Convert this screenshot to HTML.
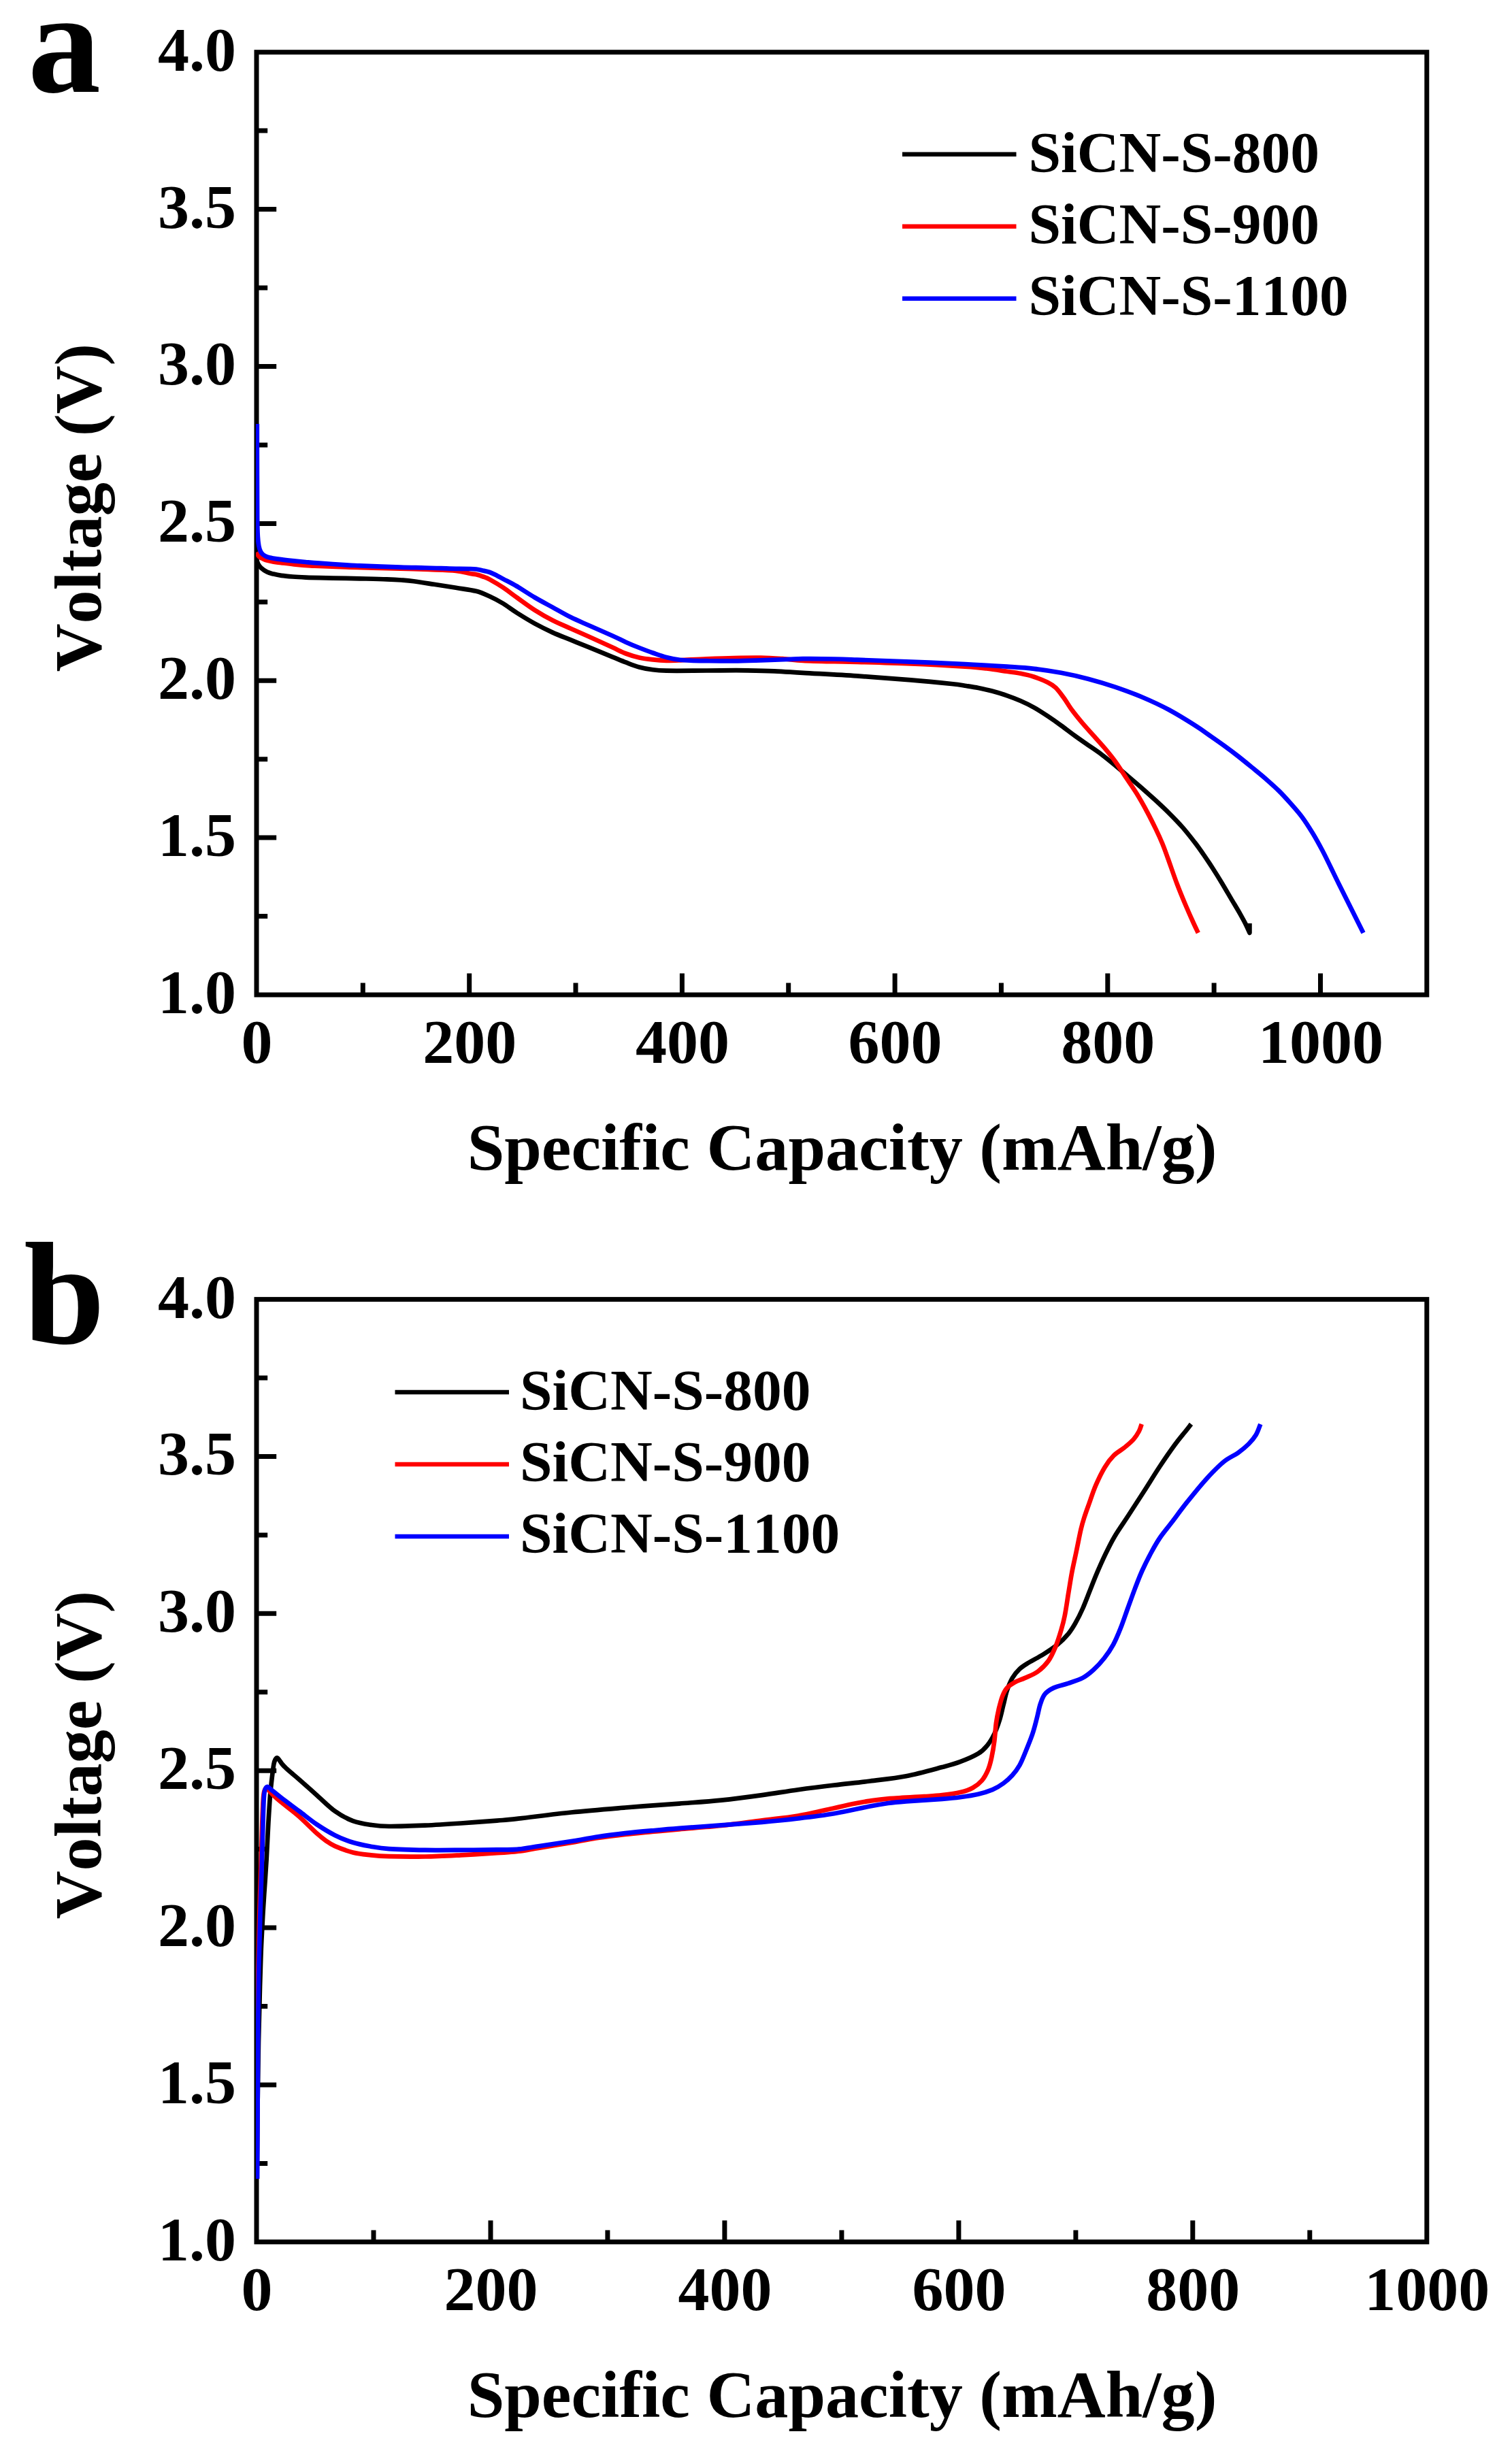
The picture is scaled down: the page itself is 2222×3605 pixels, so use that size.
<!DOCTYPE html>
<html lang="en">
<head>
<meta charset="utf-8">
<title>Voltage vs Specific Capacity</title>
<style>
html,body{margin:0;padding:0;background:#fff;}
body{width:2222px;height:3605px;overflow:hidden;}
svg{display:block;}
text{font-family:"Liberation Serif", serif;font-weight:bold;fill:#000;font-kerning:none;}
</style>
</head>
<body>
<svg width="2222" height="3605" viewBox="0 0 2222 3605">
<rect width="2222" height="3605" fill="#fff"/>
<defs><clipPath id="clipA"><rect x="376" y="76.7" width="1720.8" height="1385.3"/></clipPath><clipPath id="clipB"><rect x="376" y="1909.6" width="1720.8" height="1385.2"/></clipPath></defs>
<!-- panel a -->
<text x="41" y="134.5" font-size="214">a</text>
<rect x="377.0" y="76.7" width="1719.8" height="1385.3" fill="none" stroke="#000" stroke-width="7.0"/>
<path d="M377.0 192.1h16.2M377.0 307.6h29.2M377.0 423.0h16.2M377.0 538.5h29.2M377.0 653.9h16.2M377.0 769.4h29.2M377.0 884.8h16.2M377.0 1000.2h29.2M377.0 1115.7h16.2M377.0 1231.1h29.2M377.0 1346.6h16.2M533.3 1462.0v-17.4M689.7 1462.0v-31.5M846.0 1462.0v-17.4M1002.4 1462.0v-31.5M1158.7 1462.0v-17.4M1315.1 1462.0v-31.5M1471.4 1462.0v-17.4M1627.8 1462.0v-31.5M1784.1 1462.0v-17.4M1940.5 1462.0v-31.5" fill="none" stroke="#000" stroke-width="7.0"/>
<g clip-path="url(#clipA)">
<path d="M377.0 822.5C377.4 823.6 378.4 827.0 379.5 829.0C380.6 831.0 381.8 832.9 383.9 834.8C386.0 836.7 389.4 839.1 392.4 840.6C395.4 842.1 398.5 842.7 402.0 843.6C405.5 844.5 408.9 845.2 413.6 845.9C418.3 846.5 424.0 847.0 430.0 847.5C436.0 848.0 439.6 848.2 449.4 848.6C459.2 849.0 475.8 849.3 489.0 849.6C502.2 849.9 515.5 850.0 528.7 850.3C541.9 850.6 558.2 850.9 568.4 851.3C578.6 851.7 583.4 852.0 590.0 852.5C596.6 853.0 600.1 853.2 608.1 854.3C616.1 855.3 627.6 857.2 637.9 858.8C648.2 860.4 659.7 862.1 670.0 863.8C680.3 865.5 691.5 866.7 699.8 868.8C708.1 870.9 713.1 873.5 719.7 876.5C726.3 879.5 732.9 883.0 739.5 887.0C746.1 891.0 751.7 895.6 759.4 900.5C767.1 905.4 777.0 911.5 785.8 916.4C794.6 921.2 803.5 925.6 812.3 929.6C821.1 933.6 829.9 936.8 838.7 940.4C847.5 944.0 855.0 947.1 865.2 951.2C875.4 955.4 890.7 961.6 899.8 965.3C908.9 969.0 913.1 970.9 919.7 973.4C926.3 975.9 932.9 978.6 939.5 980.4C946.1 982.2 952.8 983.4 959.4 984.3C966.0 985.2 969.3 985.5 979.2 985.7C989.1 985.9 1005.7 985.8 1018.9 985.7C1032.1 985.6 1045.4 985.4 1058.6 985.3C1071.8 985.2 1085.1 985.1 1098.3 985.3C1111.5 985.5 1124.3 985.7 1137.9 986.3C1151.5 986.9 1159.8 987.6 1180.0 988.8C1200.2 990.0 1233.0 991.6 1259.4 993.4C1285.9 995.2 1315.6 997.5 1338.7 999.4C1361.8 1001.3 1384.8 1003.6 1398.3 1005.0C1411.8 1006.4 1413.4 1007.0 1420.0 1008.0C1426.6 1009.0 1431.6 1009.7 1437.9 1011.0C1444.2 1012.3 1450.8 1013.7 1457.8 1015.6C1464.8 1017.5 1473.0 1019.9 1480.0 1022.3C1487.0 1024.7 1493.2 1027.1 1499.8 1030.0C1506.4 1032.9 1513.1 1036.1 1519.7 1039.8C1526.3 1043.5 1532.9 1047.9 1539.5 1052.3C1546.1 1056.7 1552.8 1061.4 1559.4 1066.2C1566.0 1071.0 1572.6 1076.2 1579.2 1081.0C1585.8 1085.8 1592.4 1090.3 1599.0 1094.9C1605.6 1099.5 1612.3 1103.8 1618.9 1108.8C1625.5 1113.8 1632.1 1119.2 1638.7 1124.7C1645.3 1130.2 1652.0 1135.9 1658.6 1141.5C1665.2 1147.1 1671.8 1152.6 1678.4 1158.4C1685.0 1164.2 1691.7 1170.2 1698.3 1176.3C1704.9 1182.4 1711.5 1188.5 1718.1 1195.1C1724.7 1201.7 1731.6 1208.7 1737.9 1215.9C1744.2 1223.1 1750.8 1231.6 1756.1 1238.4C1761.3 1245.2 1765.0 1250.5 1769.4 1256.9C1773.8 1263.3 1778.2 1269.9 1782.6 1276.7C1787.0 1283.5 1791.4 1290.6 1795.8 1297.9C1800.2 1305.2 1804.6 1312.9 1809.0 1320.4C1813.4 1327.9 1818.8 1336.7 1822.3 1342.9C1825.8 1349.1 1828.0 1353.1 1830.2 1357.4C1832.4 1361.7 1834.5 1366.7 1835.3 1368.5L1836.4 1371.0L1836.4 1357.0" fill="none" stroke="#000" stroke-width="6.7" stroke-linejoin="round" stroke-linecap="butt"/>
<path d="M377.0 811.5C377.4 812.3 378.6 815.2 379.5 816.5C380.4 817.8 381.4 818.5 382.5 819.2C383.6 820.0 384.4 820.3 386.0 821.0C387.6 821.7 389.7 822.7 392.4 823.5C395.1 824.3 398.5 825.0 402.0 825.6C405.5 826.2 408.6 826.6 413.6 827.2C418.6 827.8 424.9 828.6 432.0 829.3C439.1 830.0 449.8 830.9 456.0 831.3C462.2 831.7 460.2 831.5 469.0 831.9C477.8 832.3 495.7 833.0 508.9 833.5C522.1 834.0 534.8 834.2 548.0 834.6C561.2 835.0 574.6 835.2 588.3 835.6C602.0 836.0 616.4 836.5 630.0 837.0C643.6 837.5 660.0 837.8 670.0 838.8C680.0 839.8 685.0 841.9 690.0 842.8C695.0 843.7 696.5 843.5 699.8 844.3C703.1 845.1 706.7 846.3 710.0 847.5C713.3 848.7 714.8 848.9 719.7 851.6C724.6 854.3 732.9 859.1 739.5 863.5C746.1 867.9 751.7 872.5 759.4 878.0C767.1 883.5 777.0 891.0 785.8 896.6C794.6 902.2 803.5 907.3 812.3 911.8C821.1 916.3 829.9 919.8 838.7 923.7C847.5 927.7 855.0 930.9 865.2 935.5C875.4 940.1 890.7 947.1 899.8 951.3C908.9 955.5 913.1 958.0 919.7 960.5C926.3 963.0 932.9 965.0 939.5 966.5C946.1 968.0 952.8 968.7 959.4 969.4C966.0 970.1 972.4 970.6 979.2 970.8C986.0 970.9 990.1 970.7 1000.0 970.3C1009.9 969.9 1025.6 968.8 1038.7 968.3C1051.8 967.8 1065.2 967.3 1078.4 967.0C1091.6 966.7 1106.2 966.4 1118.1 966.6C1130.0 966.8 1139.7 967.5 1150.0 968.2C1160.3 968.9 1167.4 970.1 1180.0 970.8C1192.6 971.5 1212.6 971.9 1225.8 972.2C1239.0 972.5 1240.6 972.3 1259.4 972.8C1278.2 973.3 1312.2 974.2 1338.7 975.4C1365.2 976.5 1399.5 978.5 1418.1 979.7C1436.6 980.9 1439.7 981.3 1450.0 982.5C1460.3 983.7 1471.7 985.6 1480.0 986.8C1488.3 988.0 1493.2 988.5 1499.8 989.8C1506.4 991.1 1513.1 992.6 1519.7 994.7C1526.3 996.9 1534.2 1000.1 1539.5 1002.7C1544.8 1005.4 1547.4 1006.8 1551.4 1010.6C1555.4 1014.4 1559.3 1020.0 1563.3 1025.5C1567.3 1031.0 1570.6 1037.0 1575.2 1043.3C1579.8 1049.6 1585.8 1056.9 1591.1 1063.2C1596.4 1069.5 1601.7 1075.0 1607.0 1081.0C1612.3 1087.0 1617.6 1092.6 1622.9 1098.9C1628.2 1105.2 1633.4 1111.4 1638.7 1118.7C1644.0 1126.0 1649.3 1134.6 1654.6 1142.5C1659.9 1150.4 1665.2 1157.7 1670.5 1166.3C1675.8 1174.9 1681.7 1185.5 1686.3 1194.1C1690.9 1202.7 1694.6 1210.3 1698.3 1217.9C1702.0 1225.5 1705.2 1232.5 1708.2 1239.8C1711.2 1247.1 1712.9 1252.1 1716.5 1262.0C1720.1 1271.9 1725.3 1287.4 1729.7 1299.0C1734.1 1310.6 1738.9 1322.1 1742.9 1331.5C1746.9 1340.9 1750.5 1348.9 1753.5 1355.5C1756.5 1362.1 1759.6 1368.4 1760.8 1371.0" fill="none" stroke="#f00" stroke-width="6.7" stroke-linejoin="round" stroke-linecap="butt"/>
<path d="M377.8 623.0C377.8 635.8 377.8 677.2 377.9 700.0C377.9 722.8 378.0 745.3 378.1 760.0C378.2 774.7 378.4 781.0 378.8 788.0C379.2 795.0 379.6 798.2 380.3 802.0C381.0 805.8 381.9 808.3 382.9 810.5C383.9 812.7 384.9 813.7 386.5 815.0C388.1 816.3 390.2 817.5 392.4 818.4C394.6 819.3 396.4 819.6 399.8 820.2C403.2 820.8 408.1 821.6 413.0 822.2C417.9 822.9 423.5 823.5 429.5 824.1C435.5 824.7 442.4 825.4 449.0 826.0C455.6 826.6 459.2 827.0 469.2 827.7C479.2 828.4 499.0 829.7 508.9 830.3C518.8 830.9 515.5 830.7 528.7 831.3C541.9 831.9 572.3 833.2 588.3 833.7C604.3 834.2 614.7 834.2 624.6 834.5C634.5 834.8 640.2 835.0 647.8 835.2C655.4 835.4 663.0 835.7 670.0 835.8C677.0 835.9 685.0 835.9 690.0 836.0C695.0 836.1 696.5 836.1 699.8 836.5C703.0 836.9 706.2 837.8 709.5 838.5C712.8 839.2 716.2 839.8 719.7 841.0C723.2 842.2 727.1 844.4 730.4 846.0C733.7 847.6 734.7 848.3 739.5 850.9C744.3 853.5 751.7 857.0 759.4 861.5C767.1 866.0 777.0 872.8 785.8 878.0C794.6 883.2 803.5 887.8 812.3 892.6C821.1 897.5 829.9 902.7 838.7 907.1C847.5 911.5 855.0 914.5 865.2 919.0C875.4 923.5 890.7 930.1 899.8 934.2C908.9 938.3 913.1 940.7 919.7 943.7C926.3 946.7 932.9 949.4 939.5 952.0C946.1 954.6 952.8 957.2 959.4 959.5C966.0 961.8 972.6 964.3 979.2 966.0C985.8 967.7 992.5 969.0 999.0 969.8C1005.5 970.6 1011.4 970.6 1018.0 970.8C1024.6 971.0 1028.6 971.1 1038.7 971.2C1048.8 971.3 1065.2 971.5 1078.4 971.4C1091.6 971.3 1104.9 970.8 1118.1 970.4C1131.3 970.0 1147.5 969.4 1157.8 969.0C1168.1 968.6 1168.7 968.2 1180.0 968.1C1191.3 968.0 1212.6 968.2 1225.8 968.5C1239.0 968.8 1240.6 968.9 1259.4 969.6C1278.2 970.3 1312.2 971.5 1338.7 972.6C1365.2 973.7 1394.5 974.8 1418.1 976.0C1441.6 977.2 1463.1 978.6 1480.0 979.7C1496.9 980.8 1506.5 981.3 1519.7 982.8C1532.9 984.3 1546.2 986.3 1559.4 988.8C1572.6 991.3 1585.8 994.2 1599.0 997.7C1612.2 1001.2 1625.5 1005.1 1638.7 1009.6C1651.9 1014.1 1665.2 1018.9 1678.4 1024.5C1691.6 1030.1 1704.9 1036.2 1718.1 1043.3C1731.3 1050.4 1747.5 1060.6 1757.8 1067.1C1768.1 1073.6 1773.0 1077.6 1780.0 1082.5C1787.0 1087.4 1793.2 1091.7 1799.8 1096.5C1806.4 1101.3 1813.1 1106.3 1819.7 1111.5C1826.3 1116.7 1832.9 1122.1 1839.5 1127.5C1846.1 1132.9 1852.8 1138.2 1859.4 1144.0C1866.0 1149.8 1873.1 1156.0 1879.2 1162.0C1885.3 1168.0 1890.4 1173.7 1896.0 1180.0C1901.6 1186.3 1907.3 1192.5 1912.9 1200.0C1918.5 1207.5 1924.3 1216.7 1929.4 1225.0C1934.5 1233.3 1939.0 1241.7 1943.4 1250.0C1947.8 1258.3 1951.8 1266.8 1955.8 1275.0C1959.8 1283.2 1963.6 1291.2 1967.5 1299.0C1971.4 1306.8 1975.1 1314.2 1979.0 1322.0C1982.9 1329.8 1986.9 1337.8 1991.0 1346.0C1995.1 1354.2 2001.4 1366.8 2003.5 1371.0" fill="none" stroke="#00f" stroke-width="6.7" stroke-linejoin="round" stroke-linecap="butt"/>
</g>
<g font-size="92" text-anchor="end">
<text x="347.1" y="103.6">4.0</text>
<text x="347.1" y="334.5">3.5</text>
<text x="347.1" y="565.4">3.0</text>
<text x="347.1" y="796.2">2.5</text>
<text x="347.1" y="1027.1">2.0</text>
<text x="347.1" y="1258.0">1.5</text>
<text x="347.1" y="1488.9">1.0</text>
</g>
<g font-size="92" text-anchor="middle">
<text x="377.5" y="1562.4">0</text>
<text x="690.2" y="1562.4">200</text>
<text x="1002.9" y="1562.4">400</text>
<text x="1315.6" y="1562.4">600</text>
<text x="1628.3" y="1562.4">800</text>
<text x="1941.0" y="1562.4">1000</text>
</g>
<text transform="translate(147.5 746) rotate(-90)" font-size="98.2" text-anchor="middle">Voltage (V)</text>
<text x="1237.5" y="1719" font-size="98.2" text-anchor="middle">Specific Capacity (mAh/g)</text>
<path d="M1326.0 226.8h167.5" stroke="#000" stroke-width="6.6" fill="none"/>
<path d="M1326.0 332.8h167.5" stroke="#f00" stroke-width="6.6" fill="none"/>
<path d="M1326.0 438.8h167.5" stroke="#00f" stroke-width="6.6" fill="none"/>
<g font-size="85.5">
<text x="1511.5" y="252.6">SiCN-S-800</text>
<text x="1511.5" y="357.9">SiCN-S-900</text>
<text x="1511.5" y="463.2">SiCN-S-1100</text>
</g>
<!-- panel b -->
<text x="35" y="1973.5" font-size="214">b</text>
<rect x="377.0" y="1909.6" width="1719.8" height="1385.2" fill="none" stroke="#000" stroke-width="7.0"/>
<path d="M377.0 2025.0h16.2M377.0 2140.5h29.2M377.0 2255.9h16.2M377.0 2371.3h29.2M377.0 2486.8h16.2M377.0 2602.2h29.2M377.0 2717.6h16.2M377.0 2833.1h29.2M377.0 2948.5h16.2M377.0 3063.9h29.2M377.0 3179.4h16.2M549.0 3294.8v-17.4M721.0 3294.8v-31.5M892.9 3294.8v-17.4M1064.9 3294.8v-31.5M1236.9 3294.8v-17.4M1408.9 3294.8v-31.5M1580.9 3294.8v-17.4M1752.8 3294.8v-31.5M1924.8 3294.8v-17.4" fill="none" stroke="#000" stroke-width="7.0"/>
<g clip-path="url(#clipB)">
<path d="M377.5 3202.0C377.7 3185.0 378.1 3133.7 378.5 3100.0C378.9 3066.3 379.4 3030.0 380.0 3000.0C380.6 2970.0 381.4 2942.7 382.0 2920.0C382.6 2897.3 383.1 2882.1 383.8 2863.9C384.6 2845.7 385.6 2826.4 386.5 2811.0C387.4 2795.6 388.2 2784.5 389.1 2771.3C390.0 2758.1 390.8 2747.0 391.7 2731.6C392.6 2716.2 393.5 2694.1 394.4 2678.7C395.3 2663.3 396.1 2650.0 397.0 2639.0C397.9 2628.0 398.8 2620.3 399.7 2612.6C400.6 2604.9 401.5 2597.4 402.3 2593.0C403.1 2588.6 403.6 2587.6 404.5 2586.0C405.4 2584.4 406.5 2583.2 407.6 2583.5C408.7 2583.8 409.8 2585.9 411.0 2587.5C412.2 2589.1 413.5 2591.2 415.0 2593.0C416.5 2594.8 417.8 2596.1 420.0 2598.2C422.2 2600.2 424.8 2602.5 428.0 2605.3C431.2 2608.1 433.1 2609.5 439.4 2615.0C445.7 2620.5 457.0 2630.7 465.8 2638.5C474.6 2646.3 483.5 2655.5 492.3 2661.8C501.1 2668.1 509.9 2672.8 518.7 2676.1C527.5 2679.4 536.4 2680.6 545.2 2681.9C554.0 2683.2 558.4 2683.9 571.6 2684.0C584.8 2684.1 607.0 2683.4 624.6 2682.7C642.2 2681.9 659.9 2680.7 677.5 2679.5C695.1 2678.3 716.6 2676.7 730.4 2675.6C744.1 2674.5 741.8 2674.9 760.0 2672.9C778.2 2670.9 812.9 2666.2 839.4 2663.5C865.9 2660.8 892.2 2658.7 918.7 2656.5C945.2 2654.3 974.6 2652.4 998.1 2650.6C1021.6 2648.8 1039.7 2647.7 1060.0 2645.6C1080.3 2643.5 1101.2 2640.7 1120.0 2638.1C1138.8 2635.5 1155.3 2632.6 1172.9 2630.2C1190.5 2627.8 1208.2 2625.6 1225.8 2623.5C1243.4 2621.4 1261.1 2619.7 1278.7 2617.5C1296.3 2615.3 1313.9 2613.7 1331.6 2610.3C1349.2 2606.9 1371.4 2600.6 1384.6 2597.1C1397.8 2593.6 1402.2 2592.5 1411.0 2589.2C1419.8 2585.9 1430.9 2581.2 1437.5 2577.2C1444.1 2573.2 1446.7 2570.2 1450.7 2565.3C1454.7 2560.5 1458.2 2554.5 1461.3 2548.1C1464.4 2541.7 1467.0 2534.1 1469.2 2527.0C1471.4 2519.9 1472.7 2512.9 1474.5 2505.8C1476.3 2498.8 1477.6 2491.3 1479.8 2484.7C1482.0 2478.1 1484.6 2471.4 1487.7 2466.1C1490.8 2460.8 1494.3 2456.7 1498.3 2452.9C1502.3 2449.1 1505.9 2447.1 1511.7 2443.5C1517.5 2439.9 1525.8 2435.9 1532.9 2431.5C1540.0 2427.1 1547.9 2422.0 1554.1 2416.9C1560.3 2411.8 1565.6 2406.4 1570.0 2401.1C1574.4 2395.8 1577.0 2391.4 1580.5 2385.2C1584.0 2379.0 1587.6 2371.9 1591.1 2364.0C1594.6 2356.1 1598.2 2346.4 1601.7 2337.6C1605.2 2328.8 1608.3 2320.4 1612.3 2311.1C1616.3 2301.8 1621.1 2291.0 1625.5 2282.0C1629.9 2273.0 1633.1 2266.2 1638.7 2256.9C1644.3 2247.6 1652.0 2236.8 1659.0 2226.0C1666.0 2215.2 1673.4 2203.8 1681.0 2192.0C1688.6 2180.2 1696.9 2166.5 1704.5 2155.0C1712.1 2143.5 1720.6 2131.3 1726.7 2123.0C1732.8 2114.7 1737.0 2110.0 1741.0 2105.0C1745.0 2100.0 1748.9 2094.9 1750.5 2092.9" fill="none" stroke="#000" stroke-width="6.7" stroke-linejoin="round" stroke-linecap="butt"/>
<path d="M377.5 3202.0C377.6 3185.0 377.8 3133.7 378.0 3100.0C378.2 3066.3 378.3 3033.3 378.5 3000.0C378.7 2966.7 378.8 2931.5 379.3 2900.0C379.8 2868.5 380.6 2839.1 381.3 2811.0C382.1 2782.9 383.1 2753.7 383.8 2731.6C384.5 2709.5 384.8 2693.3 385.3 2678.7C385.8 2664.1 386.3 2651.8 386.8 2644.0C387.3 2636.2 387.6 2634.6 388.5 2632.0C389.4 2629.4 390.1 2627.8 392.0 2628.5C393.9 2629.2 396.2 2633.1 399.7 2636.4C403.2 2639.7 406.3 2642.8 412.9 2648.3C419.5 2653.8 430.6 2661.8 439.4 2669.5C448.2 2677.2 459.2 2688.7 465.8 2694.6C472.4 2700.5 474.6 2702.1 479.0 2705.2C483.4 2708.3 485.7 2710.2 492.3 2713.1C498.9 2716.0 509.9 2720.2 518.7 2722.4C527.5 2724.6 536.4 2725.3 545.2 2726.3C554.0 2727.3 558.4 2727.8 571.6 2728.2C584.8 2728.6 607.0 2728.8 624.6 2728.5C642.2 2728.2 659.9 2727.2 677.5 2726.3C695.1 2725.4 716.6 2724.1 730.4 2723.2C744.1 2722.3 749.6 2722.3 760.0 2721.0C770.4 2719.7 778.6 2717.9 792.9 2715.6C807.2 2713.2 831.4 2709.3 845.8 2706.9C860.1 2704.5 866.9 2702.8 879.0 2701.0C891.1 2699.2 905.5 2697.5 918.7 2696.0C931.9 2694.5 945.2 2693.3 958.4 2692.0C971.6 2690.7 981.2 2689.8 998.1 2688.3C1015.0 2686.8 1039.7 2685.2 1060.0 2683.0C1080.3 2680.8 1101.2 2677.7 1120.0 2675.3C1138.8 2672.9 1155.3 2671.5 1172.9 2668.5C1190.5 2665.5 1212.6 2660.1 1225.8 2657.2C1239.0 2654.3 1243.5 2653.1 1252.3 2651.3C1261.1 2649.5 1269.9 2647.9 1278.7 2646.6C1287.5 2645.3 1292.0 2644.5 1305.2 2643.4C1318.4 2642.3 1344.9 2641.1 1358.1 2640.2C1371.3 2639.3 1375.8 2639.1 1384.6 2638.1C1393.4 2637.1 1403.5 2635.9 1411.0 2634.1C1418.5 2632.3 1424.2 2630.4 1429.5 2627.5C1434.8 2624.6 1439.0 2621.3 1442.8 2616.9C1446.5 2612.5 1449.6 2606.8 1452.0 2601.1C1454.4 2595.4 1455.8 2589.6 1457.3 2582.5C1458.8 2575.4 1460.2 2567.1 1461.3 2558.7C1462.4 2550.3 1462.8 2540.2 1463.9 2532.3C1465.0 2524.4 1466.4 2517.7 1467.9 2511.1C1469.5 2504.5 1471.2 2497.7 1473.2 2492.6C1475.2 2487.5 1476.9 2484.0 1479.8 2480.7C1482.7 2477.4 1486.0 2475.3 1490.4 2472.8C1494.9 2470.3 1500.7 2468.6 1506.5 2465.9C1512.3 2463.2 1519.3 2460.8 1525.0 2456.6C1530.7 2452.4 1536.4 2446.9 1540.8 2440.7C1545.2 2434.5 1548.3 2427.1 1551.4 2419.6C1554.5 2412.1 1557.2 2403.3 1559.4 2395.8C1561.6 2388.3 1563.0 2383.4 1564.7 2374.6C1566.5 2365.8 1568.2 2353.5 1569.9 2342.9C1571.7 2332.3 1573.2 2321.7 1575.2 2311.1C1577.2 2300.5 1579.7 2290.0 1581.9 2279.4C1584.1 2268.8 1586.6 2255.7 1588.5 2247.6C1590.4 2239.5 1591.2 2236.9 1593.1 2231.0C1595.0 2225.1 1596.8 2220.0 1599.7 2212.0C1602.6 2204.0 1606.3 2192.2 1610.3 2182.9C1614.3 2173.6 1619.1 2163.7 1623.5 2156.4C1627.9 2149.1 1631.9 2144.0 1636.7 2139.2C1641.5 2134.3 1647.8 2131.3 1652.6 2127.3C1657.4 2123.3 1662.3 2119.4 1665.8 2115.4C1669.3 2111.4 1671.8 2107.2 1673.8 2103.5C1675.8 2099.8 1677.0 2094.7 1677.7 2092.9" fill="none" stroke="#f00" stroke-width="6.7" stroke-linejoin="round" stroke-linecap="butt"/>
<path d="M378.1 3202.0C378.2 3185.0 378.4 3133.7 378.6 3100.0C378.8 3066.3 378.9 3033.3 379.2 3000.0C379.4 2966.7 379.6 2931.5 380.1 2900.0C380.7 2868.5 381.7 2839.1 382.5 2811.0C383.3 2782.9 384.4 2753.7 385.1 2731.6C385.8 2709.5 386.1 2693.6 386.5 2678.7C386.9 2663.8 387.3 2650.1 387.8 2642.0C388.3 2633.9 388.6 2632.7 389.5 2630.0C390.4 2627.3 391.4 2625.6 393.1 2625.8C394.8 2626.0 396.4 2628.4 399.7 2631.1C403.0 2633.8 406.3 2636.6 412.9 2641.7C419.5 2646.8 430.6 2654.9 439.4 2661.5C448.2 2668.1 457.0 2675.5 465.8 2681.4C474.6 2687.3 483.5 2692.8 492.3 2697.2C501.1 2701.6 509.9 2705.1 518.7 2707.8C527.5 2710.6 536.4 2712.1 545.2 2713.7C554.0 2715.2 558.4 2716.2 571.6 2717.1C584.8 2718.0 607.0 2718.6 624.6 2718.9C642.2 2719.2 659.9 2719.0 677.5 2718.9C695.1 2718.8 716.6 2718.6 730.4 2718.4C744.1 2718.2 749.6 2718.8 760.0 2717.9C770.4 2717.0 778.6 2715.2 792.9 2713.0C807.2 2710.8 831.4 2707.3 845.8 2705.0C860.1 2702.7 866.9 2701.0 879.0 2699.2C891.1 2697.4 905.5 2695.7 918.7 2694.2C931.9 2692.7 945.2 2691.5 958.4 2690.3C971.6 2689.1 981.2 2688.2 998.1 2686.9C1015.0 2685.6 1039.7 2683.8 1060.0 2682.3C1080.3 2680.8 1101.2 2679.4 1120.0 2677.8C1138.8 2676.2 1155.3 2674.6 1172.9 2672.5C1190.5 2670.4 1208.2 2668.3 1225.8 2665.3C1243.4 2662.3 1265.5 2657.1 1278.7 2654.5C1291.9 2651.9 1296.4 2651.2 1305.2 2650.0C1314.0 2648.8 1318.4 2648.4 1331.6 2647.4C1344.8 2646.4 1371.4 2644.9 1384.6 2643.9C1397.8 2642.9 1402.2 2642.5 1411.0 2641.3C1419.8 2640.1 1429.6 2638.7 1437.5 2636.8C1445.4 2635.0 1452.4 2632.8 1458.6 2630.2C1464.8 2627.5 1469.7 2624.4 1474.5 2620.9C1479.3 2617.4 1483.7 2613.4 1487.7 2609.0C1491.7 2604.6 1495.2 2599.9 1498.3 2594.4C1501.4 2588.9 1503.4 2583.5 1506.5 2576.0C1509.6 2568.5 1514.1 2557.6 1517.0 2549.2C1519.9 2540.8 1521.7 2532.9 1523.7 2525.4C1525.7 2517.9 1526.9 2510.1 1528.9 2504.2C1530.9 2498.2 1532.3 2493.7 1535.6 2489.7C1538.9 2485.7 1543.1 2483.1 1548.8 2480.4C1554.5 2477.8 1562.9 2476.2 1569.9 2473.8C1577.0 2471.4 1584.9 2469.2 1591.1 2465.9C1597.3 2462.6 1601.7 2458.8 1607.0 2454.0C1612.3 2449.2 1618.1 2443.0 1622.9 2436.8C1627.8 2430.6 1632.1 2424.2 1636.1 2416.9C1640.1 2409.6 1643.2 2401.9 1646.7 2393.1C1650.2 2384.3 1653.7 2373.7 1657.2 2364.0C1660.7 2354.3 1664.3 2344.2 1667.8 2334.9C1671.3 2325.7 1674.4 2317.3 1678.4 2308.5C1682.4 2299.7 1687.2 2290.2 1691.6 2282.0C1696.0 2273.8 1699.9 2266.8 1704.9 2259.5C1709.9 2252.2 1714.7 2246.8 1721.4 2238.0C1728.1 2229.2 1736.8 2217.2 1745.2 2206.7C1753.6 2196.2 1762.8 2184.6 1771.6 2174.9C1780.4 2165.2 1790.1 2155.1 1798.1 2148.5C1806.0 2141.9 1813.1 2139.6 1819.3 2135.2C1825.5 2130.8 1830.7 2126.4 1835.1 2122.0C1839.5 2117.6 1842.8 2113.7 1845.7 2108.8C1848.6 2104.0 1851.2 2095.6 1852.3 2092.9" fill="none" stroke="#00f" stroke-width="6.7" stroke-linejoin="round" stroke-linecap="butt"/>
</g>
<g font-size="92" text-anchor="end">
<text x="347.1" y="1936.5">4.0</text>
<text x="347.1" y="2167.4">3.5</text>
<text x="347.1" y="2398.2">3.0</text>
<text x="347.1" y="2629.1">2.5</text>
<text x="347.1" y="2860.0">2.0</text>
<text x="347.1" y="3090.8">1.5</text>
<text x="347.1" y="3321.7">1.0</text>
</g>
<g font-size="92" text-anchor="middle">
<text x="377.5" y="3395.2">0</text>
<text x="721.5" y="3395.2">200</text>
<text x="1065.4" y="3395.2">400</text>
<text x="1409.4" y="3395.2">600</text>
<text x="1753.3" y="3395.2">800</text>
<text x="2097.3" y="3395.2">1000</text>
</g>
<text transform="translate(147.5 2579) rotate(-90)" font-size="98.2" text-anchor="middle">Voltage (V)</text>
<text x="1237.5" y="3552" font-size="98.2" text-anchor="middle">Specific Capacity (mAh/g)</text>
<path d="M580.5 2046.0h167.5" stroke="#000" stroke-width="6.6" fill="none"/>
<path d="M580.5 2152.0h167.5" stroke="#f00" stroke-width="6.6" fill="none"/>
<path d="M580.5 2258.0h167.5" stroke="#00f" stroke-width="6.6" fill="none"/>
<g font-size="85.5">
<text x="764.0" y="2071.8">SiCN-S-800</text>
<text x="764.0" y="2177.1">SiCN-S-900</text>
<text x="764.0" y="2282.4">SiCN-S-1100</text>
</g>
</svg>
</body>
</html>
